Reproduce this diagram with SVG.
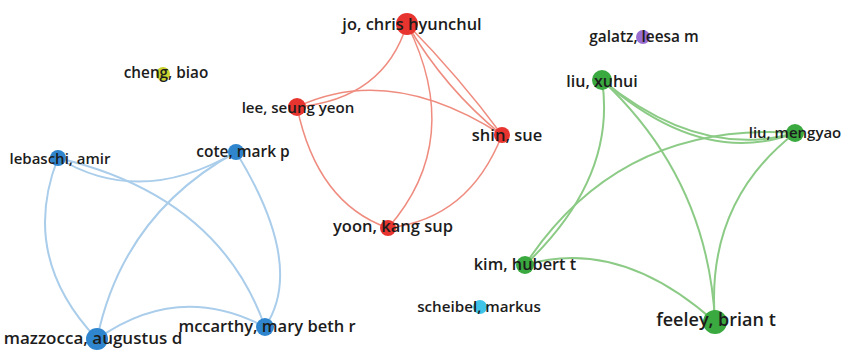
<svg xmlns="http://www.w3.org/2000/svg" width="843" height="351" viewBox="0 0 843 351">
<style>
.bg{fill:#ffffff}
.lbl{font-family:"Open Sans","Noto Sans","Liberation Sans",sans-serif;font-weight:600;fill:#1c1c1c;text-anchor:middle}
.e{fill:none;stroke-linecap:round}
.eb{stroke:#a9cdea;stroke-width:2}
.er{stroke:#ef8c7f;stroke-width:1.5}
.eg{stroke:#8ccb86;stroke-width:2}
.nb{fill:#2f86cf}
.nr{fill:#e8342f}
.ng{fill:#3aa93f}
.np{fill:#9a6dd1}
.nc{fill:#3fc3e6}
.ny{fill:#c9d22f}
</style>
<rect class="bg" x="0" y="0" width="843" height="351"/>
<g id="connectors">
  <!-- blue cluster -->
  <path class="e eb" d="M58,158 Q140,208 236,152"/>
  <path class="e eb" d="M58,158 Q19,257 97,339"/>
  <path class="e eb" d="M58,158 Q219,196 265,327"/>
  <path class="e eb" d="M236,152 Q123,214 97,339"/>
  <path class="e eb" d="M236,152 Q306,266 265,327"/>
  <path class="e eb" d="M97,339 Q179,281 265,327"/>
  <!-- red cluster -->
  <path class="e er" d="M297,107 Q384,99 407,24"/>
  <path class="e er" d="M297,107 Q390,63 502,135"/>
  <path class="e er" d="M407,24 Q445,89 502,135"/>
  <path class="e er" d="M407,24 Q460,78 502,135"/>
  <path class="e er" d="M407,24 Q465,140 388,228"/>
  <path class="e er" d="M297,107 Q317,203 388,228"/>
  <path class="e er" d="M502,135 Q469,219 388,228"/>
  <!-- green cluster -->
  <path class="e eg" d="M602,80 Q702,168 795,133"/>
  <path class="e eg" d="M602,80 Q700,160 795,133"/>
  <path class="e eg" d="M525,265 Q620,121 795,133"/>
  <path class="e eg" d="M602,80 Q617,178 525,265"/>
  <path class="e eg" d="M602,80 Q708,179 715,322"/>
  <path class="e eg" d="M795,133 Q705,203 715,322"/>
  <path class="e eg" d="M525,265 Q620,237 715,322"/>
</g>
<g id="node-lebaschi"><circle class="nb" cx="58" cy="158" r="8"/><text class="lbl" x="60" y="164" font-size="15">lebaschi, amir</text></g>
<g id="node-cote"><circle class="nb" cx="236" cy="152" r="8"/><text class="lbl" x="243" y="157" font-size="15.5">cote, mark p</text></g>
<g id="node-mazzocca"><circle class="nb" cx="97" cy="339" r="11"/><text class="lbl" x="93" y="344" font-size="17">mazzocca, augustus d</text></g>
<g id="node-mccarthy"><circle class="nb" cx="265" cy="327" r="9"/><text class="lbl" x="267" y="332" font-size="16.5">mccarthy, mary beth r</text></g>
<g id="node-cheng"><circle class="ny" cx="163" cy="74" r="7"/><text class="lbl" x="166" y="78" font-size="15.3">cheng, biao</text></g>
<g id="node-jo"><circle class="nr" cx="407" cy="24" r="11"/><text class="lbl" x="412" y="30" font-size="16.4">jo, chris hyunchul</text></g>
<g id="node-lee"><circle class="nr" cx="297" cy="107" r="9"/><text class="lbl" x="298" y="113" font-size="15.1">lee, seung yeon</text></g>
<g id="node-shin"><circle class="nr" cx="502" cy="135" r="8"/><text class="lbl" x="507" y="141" font-size="16.5">shin, sue</text></g>
<g id="node-yoon"><circle class="nr" cx="388" cy="228" r="8"/><text class="lbl" x="393" y="232" font-size="16.5">yoon, kang sup</text></g>
<g id="node-galatz"><circle class="np" cx="643" cy="37" r="7"/><text class="lbl" x="644" y="42" font-size="15.4">galatz, leesa m</text></g>
<g id="node-liu-xuhui"><circle class="ng" cx="602" cy="80" r="10"/><text class="lbl" x="602" y="87" font-size="16">liu, xuhui</text></g>
<g id="node-liu-mengyao"><circle class="ng" cx="795" cy="133" r="9"/><text class="lbl" x="795" y="138" font-size="15">liu, mengyao</text></g>
<g id="node-kim"><circle class="ng" cx="525" cy="265" r="9"/><text class="lbl" x="525" y="270" font-size="16.3">kim, hubert t</text></g>
<g id="node-feeley"><circle class="ng" cx="715" cy="322" r="12"/><text class="lbl" x="716" y="326" font-size="18">feeley, brian t</text></g>
<g id="node-scheibel"><circle class="nc" cx="480" cy="307" r="7"/><text class="lbl" x="479" y="312" font-size="15.2">scheibel, markus</text></g>
</svg>
